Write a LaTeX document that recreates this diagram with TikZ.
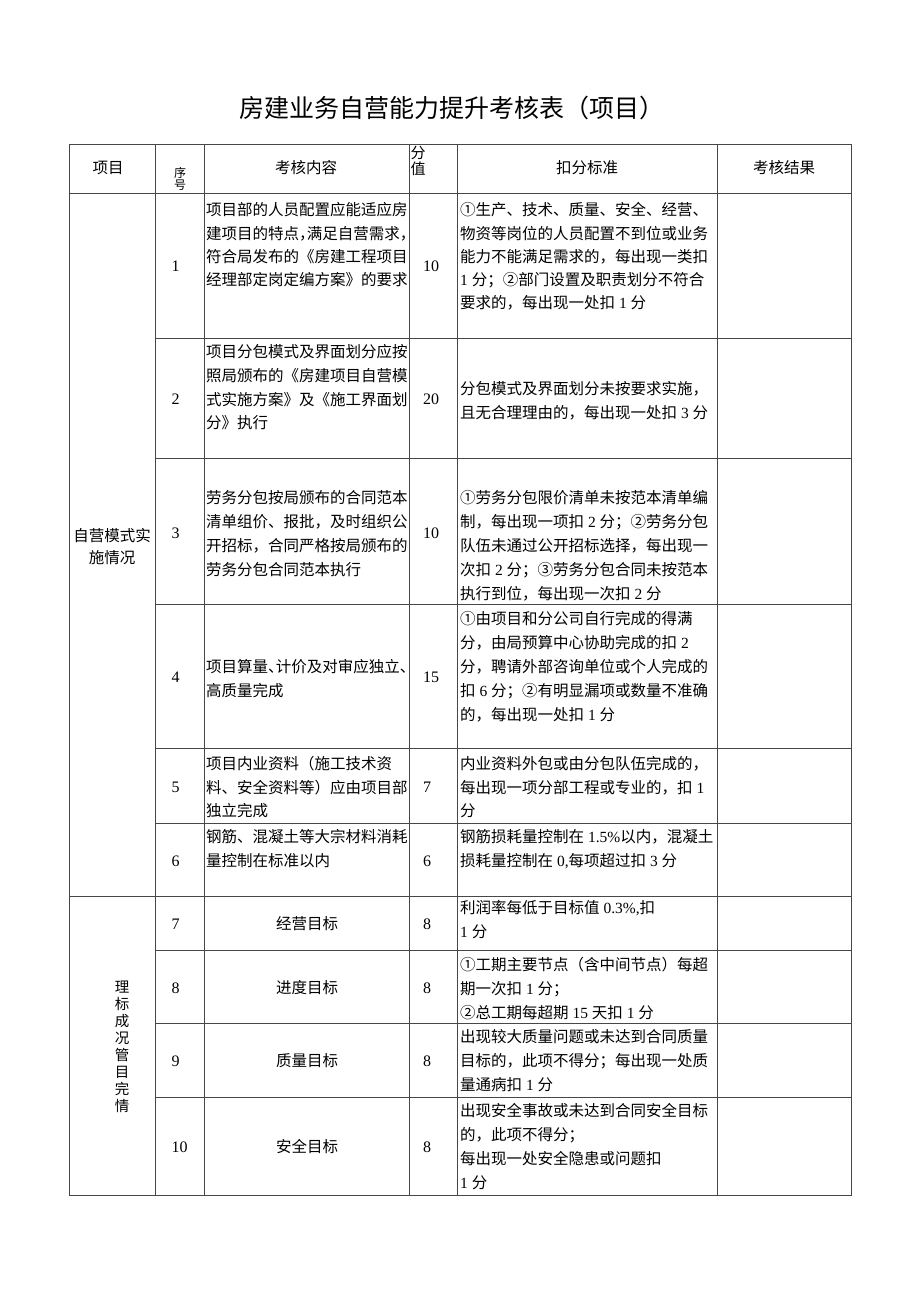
\documentclass[tikz,border=0pt]{standalone}
\usepackage{fontspec}
\usepackage{tikz}
\setmainfont{Noto Sans CJK SC}
\newfontfamily\tnr{Liberation Serif}
\newcommand\latn[1]{{\tnr{}#1}}
\newcommand\hw[1]{\makebox[0.5em][l]{#1}}

\begin{document}
\begin{tikzpicture}[x=1pt,y=-1pt]
            \tikzstyle{every node}+=[inner sep=0pt]
            \tikzstyle{ln}=[anchor=west, font=\fontsize{15.5}{18}\selectfont, text height=13.6pt, text depth=1.9pt]
            \tikzstyle{hd}=[font=\fontsize{15.5}{18}\selectfont, text height=13.6pt, text depth=1.9pt]
            \tikzstyle{num}=[anchor=west, font=\tnr\fontsize{16}{18}\selectfont]
            \tikzstyle{grid}=[draw=black!72, line width=0.9pt]
            \useasboundingbox [fill=white] (0,0) rectangle (920,1301);
            \node [font=\fontsize{25}{28}\selectfont] (title) at (452,108) {房建业务自营能力提升考核表（项目）};
            \draw [grid] (69,144) rectangle (851,1195);
            \foreach \x in {155,204,409,457,717}
                \draw [grid] (\x,144) -- (\x,1195);
            \draw [grid] (69,193) -- (851,193);
            \draw [grid] (69,896) -- (851,896);
            \foreach \y in {338,458,604,748,823,950,1023,1097}
                \draw [grid] (155,\y) -- (851,\y);
            \node [hd] (h1) at (108,168) {项目};
            \node [hd, font=\fontsize{12}{14}\selectfont] (h2a) at (180,172) {序};
            \node [hd, font=\fontsize{12}{14}\selectfont] (h2b) at (180,184) {号};
            \node [hd] (h3) at (306,168) {考核内容};
            \node [hd, font=\fontsize{15}{16}\selectfont] (h4a) at (418,153) {分};
            \node [hd, font=\fontsize{15}{16}\selectfont] (h4b) at (418,169) {值};
            \node [hd] (h5) at (587,168) {扣分标准};
            \node [hd] (h6) at (784,168) {考核结果};
            \node [hd] (s1a) at (112,536) {自营模式实};
            \node [hd] (s1b) at (112,558) {施情况};
            \foreach \c [count=\i] in {理,标,成,况,管,目,完,情}
                \node [hd, font=\fontsize{14.5}{16}\selectfont] (s2-\i) at (122,{970+16.9*\i}) {\c};
            \foreach \n/\y/\v in {1/266/10,2/399/20,3/533/10,4/677/15,5/787/7,6/861/6,7/924/8,8/988/8,9/1061/8,10/1147/8} {
                \node [num] (n\n) at (171.5,\y) {\n};
                \node [num] (v\n) at (423,\y) {\v};
            }
            \foreach \t [count=\i] in {项目部的人员配置应能适应房,建项目的特点\hw{，}满足自营需求\hw{，},符合局发布的《房建工程项目,经理部定岗定编方案》的要求}
                \node [ln] (c1-\i) at (206,{210+23.2*(\i-1)}) {\t};
            \foreach \t [count=\i] in {①生产、技术、质量、安全、经营、,物资等岗位的人员配置不到位或业务,能力不能满足需求的，每出现一类扣,\latn{1 }分；②部门设置及职责划分不符合,要求的，每出现一处扣\latn{ 1 }分}
                \node [ln] (k1-\i) at (460,{210+23.2*(\i-1)}) {\t};
            \foreach \t [count=\i] in {项目分包模式及界面划分应按,照局颁布的《房建项目自营模,式实施方案》及《施工界面划,分》执行}
                \node [ln] (c2-\i) at (206,{352+23.7*(\i-1)}) {\t};
            \foreach \t [count=\i] in {分包模式及界面划分未按要求实施，,且无合理理由的，每出现一处扣\latn{ 3 }分}
                \node [ln] (k2-\i) at (460,{389+23.5*(\i-1)}) {\t};
            \foreach \t [count=\i] in {劳务分包按局颁布的合同范本,清单组价、报批，及时组织公,开招标，合同严格按局颁布的,劳务分包合同范本执行}
                \node [ln] (c3-\i) at (206,{498+24*(\i-1)}) {\t};
            \foreach \t [count=\i] in {①劳务分包限价清单未按范本清单编,制，每出现一项扣\latn{ 2 }分；②劳务分包,队伍未通过公开招标选择，每出现一,次扣\latn{ 2 }分；③劳务分包合同未按范本,执行到位，每出现一次扣\latn{ 2 }分}
                \node [ln] (k3-\i) at (460,{498+23.8*(\i-1)}) {\t};
            \foreach \t [count=\i] in {项目算量\hw{、}计价及对审应独立\hw{、},高质量完成}
                \node [ln] (c4-\i) at (206,{667+24*(\i-1)}) {\t};
            \foreach \t [count=\i] in {①由项目和分公司自行完成的得满,分，由局预算中心协助完成的扣\latn{ 2},分，聘请外部咨询单位或个人完成的,扣\latn{ 6 }分；②有明显漏项或数量不准确,的，每出现一处扣\latn{ 1 }分}
                \node [ln] (k4-\i) at (460,{619+24*(\i-1)}) {\t};
            \foreach \t [count=\i] in {项目内业资料（施工技术资,料、安全资料等）应由项目部,独立完成}
                \node [ln] (c5-\i) at (206,{764+23.5*(\i-1)}) {\t};
            \foreach \t [count=\i] in {内业资料外包或由分包队伍完成的，,每出现一项分部工程或专业的，扣\latn{ 1},分}
                \node [ln] (k5-\i) at (460,{764+23.5*(\i-1)}) {\t};
            \foreach \t [count=\i] in {钢筋、混凝土等大宗材料消耗,量控制在标准以内}
                \node [ln] (c6-\i) at (206,{837+24*(\i-1)}) {\t};
            \foreach \t [count=\i] in {钢筋损耗量控制在\latn{ 1.5\%}以内，混凝土,损耗量控制在\latn{ 0,}每项超过扣\latn{ 3 }分}
                \node [ln] (k6-\i) at (460,{837+24*(\i-1)}) {\t};
            \node [hd] (c7) at (307,924) {经营目标};
            \node [hd] (c8) at (307,988) {进度目标};
            \node [hd] (c9) at (307,1061) {质量目标};
            \node [hd] (c10) at (307,1147) {安全目标};
            \foreach \t [count=\i] in {利润率每低于目标值\latn{ 0.3\%,}扣,\latn{1 }分}
                \node [ln] (k7-\i) at (460,{908+24*(\i-1)}) {\t};
            \foreach \t [count=\i] in {①工期主要节点（含中间节点）每超,期一次扣\latn{ 1 }分；,②总工期每超期\latn{ 15 }天扣\latn{ 1 }分}
                \node [ln] (k8-\i) at (460,{965+24*(\i-1)}) {\t};
            \foreach \t [count=\i] in {出现较大质量问题或未达到合同质量,目标的，此项不得分；每出现一处质,量通病扣\latn{ 1 }分}
                \node [ln] (k9-\i) at (460,{1037+24*(\i-1)}) {\t};
            \foreach \t [count=\i] in {出现安全事故或未达到合同安全目标,的，此项不得分；,每出现一处安全隐患或问题扣,\latn{1 }分}
                \node [ln] (k10-\i) at (460,{1111+24*(\i-1)}) {\t};
\end{tikzpicture}
\end{document}
